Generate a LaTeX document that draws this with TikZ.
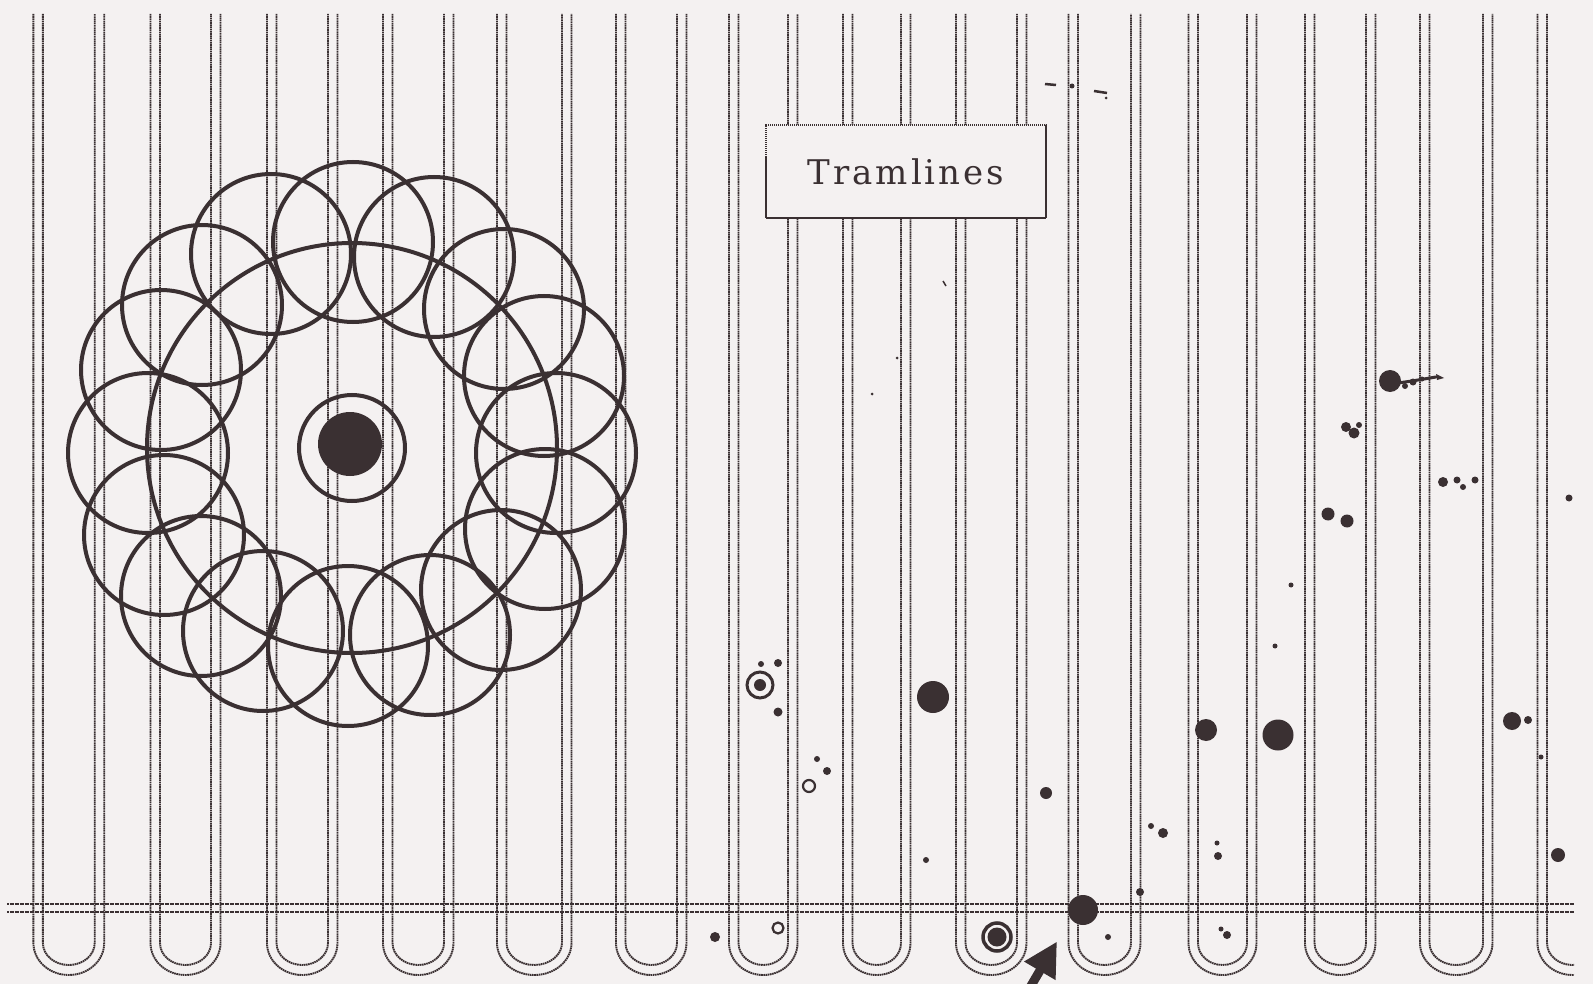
\documentclass[tikz,border=0pt]{standalone}
\usepackage{fontspec}
\newfontfamily\labfont{DejaVu Serif}
\usetikzlibrary{arrows.meta}
\definecolor{ink}{HTML}{3A3032}
\definecolor{bg}{HTML}{F4F1F1}
\tikzset{
  track/.style={draw=ink, line width=1.9pt, dash pattern=on 1.6pt off 0.6pt},
  hline/.style={draw=ink, line width=2pt, dash pattern=on 2pt off 0.5pt},
  ring/.style={draw=ink, line width=4pt},
  blot/.style={fill=ink, draw=none},
  labelbox/.style={draw=ink, line width=1.7pt, dash pattern=on 1.5pt off 0.5pt, fill=bg,
    minimum width=280pt, minimum height=93pt, inner sep=0pt,
    font=\labfont\fontsize{34}{40}\selectfont, text=ink}
}
\newcommand\lsp{\kern3pt}
\begin{document}
\begin{tikzpicture}[x=1pt,y=-1pt]
\useasboundingbox (0,0) rectangle (1593,984);
\fill[bg] (0,0) rectangle (1593,984);
\begin{scope}
\clip (0,0) rectangle (1574,984);
% tramlines with turning loops
\foreach \a/\b in {33.4/94.7, 150.5/211, 267/328, 383/444, 497/562, 616/677, 729/788, 843/901, 956/1017, 1068.5/1131, 1188.5/1247, 1305/1366, 1420/1483, 1537.5/1598}{
  \pgfmathsetmacro\xe{\b+9.5}
  \pgfmathsetmacro\xc{(\a+\xe)/2}
  \pgfmathsetmacro\kx{0.5523*(\xe-\a)/2}
  \pgfmathsetmacro\ai{\a+9.5}
  \pgfmathsetmacro\ci{(\ai+\b)/2}
  \pgfmathsetmacro\ki{0.5523*(\b-\ai)/2}
  \draw[track] (\a,14) -- (\a,943) .. controls (\a,960.7) and ({\xc-\kx},975) .. (\xc,975)
     .. controls ({\xc+\kx},975) and (\xe,960.7) .. (\xe,943) -- (\xe,14);
  \draw[track] (\ai,14) -- (\ai,943) .. controls (\ai,955.2) and ({\ci-\ki},965) .. (\ci,965)
     .. controls ({\ci+\ki},965) and (\b,955.2) .. (\b,943) -- (\b,14);
}
\draw[hline] (7,904) -- (1574,904);
\draw[hline] (7,912) -- (1574,912);
\end{scope}

% label
\node[labelbox] (label) at (906,171.5) {T\lsp r\lsp a\lsp m\lsp l\lsp i\lsp n\lsp e\lsp s};

% crop circle
\foreach \p in {(271,254),(353,242),(434,257),(504,309),(544,376),(556,453),(545,529),(501,590),
                (430,635),(348,646),(263,631),(201,596),(164,535),(148,453),(161,370),(202,305)}{
  \draw[ring] \p circle (80pt);
}
\draw[ring] (352,448) circle (205pt);
\draw[ring] (352,448) circle (53pt);
\fill[blot] (350,444) circle (32pt);

% targets and small rings
\draw[ink, line width=3pt] (760,685) circle (13pt);
\fill[blot] (760,685) circle (6pt);
\draw[ink, line width=3.5pt] (997,937) circle (14pt);
\fill[blot] (997,937) circle (9.5pt);
\draw[ink, line width=2.2pt] (809,786) circle (6pt);
\draw[ink, line width=2.2pt] (778,928) circle (5.5pt);

% blots
\foreach \x/\y/\r in {761/664/3, 778/663/4, 778/712/4.5, 817/759/3, 827/771/4, 933/697/16,
  1046/793/6, 926/860/3, 1206/730/11, 1278/735/15.5, 1512/721/9, 1528/720/4, 1541/757/2.5,
  1558/855/7, 1390/381/11, 1405/386/3, 1413/382/3.5, 1422/379/2.5, 1346/427/5, 1354/433/5.5, 1359/425/3, 1443/482/5,
  1457/480/3.5, 1463/487/3, 1475/480/3.5, 1569/498/3.5, 1328/514/6.5, 1347/521/6.5,
  1291/585/2.5, 1275/646/2.5, 1151/826/3, 1163/833/5, 1217/843/2.5, 1218/856/4,
  1140/892/4, 1083/910/15, 1108/937/3, 715/937/5, 1221/929/2.5, 1227/935/4,
  1072/86/2.5, 1106/98/1.5, 897/358/1.5, 872/394/1.5}{
  \fill[blot] (\x,\y) circle (\r pt);
}
\draw[ink, line width=3pt, line cap=round] (1398,383) -- (1412,381) -- (1436,377);
\fill[blot] (1436,374) -- (1444,378) -- (1437,380) -- cycle;
\draw[ink, line width=2.5pt] (1045,84) -- (1056,85);
\draw[ink, line width=2.5pt] (1094,91) -- (1107,93);
\draw[ink, line width=1.5pt] (943,281) -- (946,286);

% arrow
\coordinate (arrowtail) at (1025,996);
\coordinate (arrowtip) at (1057,941.5);
\begin{scope}
\clip (0,0) rectangle (1593,984);
\draw[ink, line width=9pt, -{Triangle[length=34pt,width=34pt]}] (arrowtail) -- (arrowtip);
\end{scope}
\end{tikzpicture}
\end{document}
